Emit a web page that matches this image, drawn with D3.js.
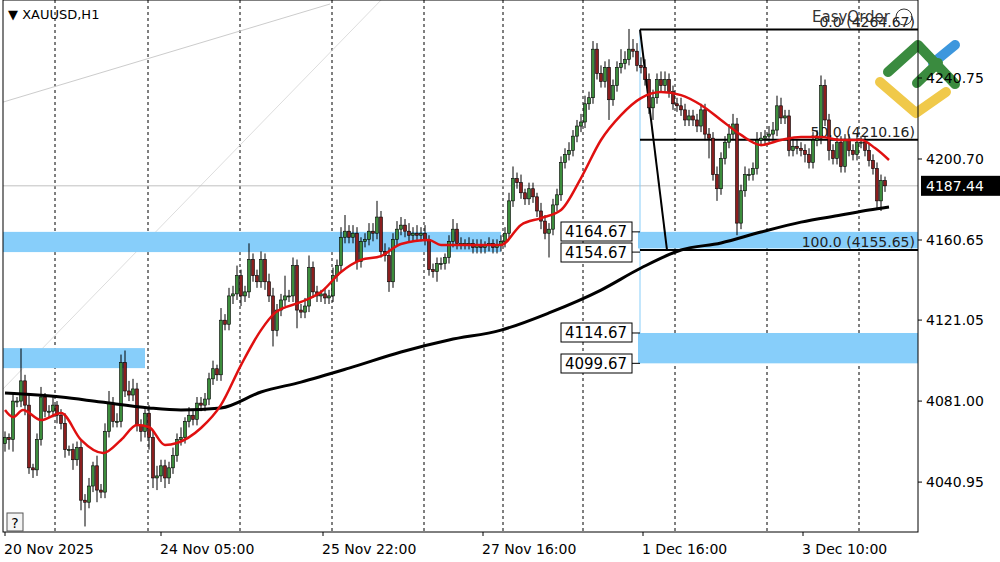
<!DOCTYPE html>
<html><head><meta charset="utf-8">
<script src="https://cdn.jsdelivr.net/npm/d3@7"></script>
<style>body{margin:0;background:#fff}svg{font-family:Tahoma,"DejaVu Sans",sans-serif}</style>
</head><body><svg id="chart" width="1000" height="562"></svg>
<script>
// candle closes (H1), open = previous close
const closes = [4063,4062,4081,4081,4091,4079,4048,4047,4062,4083,4076,4076,4079,4074,4070,4057,4057,4052,4058,4032,
4031,4039,4049,4037,4036,4066,4080,4071,4071,4100,4086,4084,4087,4069,4066,4075,4063,4043,4044,4049,
4043,4048,4054,4062,4063,4071,4074,4072,4080,4079,4082,4092,4097,4094,4121,4119,4133,4134,4143,4133,
4135,4151,4143,4140,4151,4140,4133,4116,4126,4131,4133,4133,4148,4126,4125,4128,4147,4135,4133,4134,
4132,4133,4143,4148,4162,4165,4162,4164,4150,4160,4161,4165,4164,4172,4155,4153,4140,4161,4166,4168,
4165,4163,4164,4163,4164,4161,4146,4145,4149,4149,4152,4160,4166,4159,4159,4159,4159,4157,4158,4157,
4158,4159,4157,4158,4160,4164,4180,4191,4189,4184,4181,4186,4182,4175,4170,4164,4166,4178,4183,4199,
4203,4205,4212,4217,4219,4228,4231,4255,4243,4239,4246,4230,4237,4246,4248,4250,4255,4254,4247,4246,
4240,4226,4231,4240,4237,4240,4234,4228,4227,4225,4220,4222,4220,4217,4225,4213,4211,4193,4186,4201,
4209,4213,4218,4169,4185,4193,4193,4196,4210,4211,4212,4213,4215,4227,4221,4222,4205,4207,4206,4205,
4203,4199,4210,4211,4237,4220,4205,4201,4209,4197,4210,4205,4203,4209,4209,4205,4200,4196,4180,4190,4187.44];
const firstOpen = 4060;
const wickUp = [3,2,4,2,16,3,6,2,3,5,2,3,4,2,3,5,2,3,3,4, 3,4,2,5,3,4,6,3,4,4,6,5,5,3,3,2,4,3,5,3,
3,3,4,3,5,2,4,3,3,3,3,3,4,2,6,3,4,4,5,3, 3,8,3,3,4,3,4,4,3,3,10,3,4,3,3,4,6,3,3,2,
3,3,4,3,5,8,3,4,3,2,3,4,4,8,3,4,4,3,4,4, 3,4,3,4,3,4,2,3,3,3,2,3,5,3,3,2,3,2,3,3,
2,3,2,3,3,3,4,6,3,4,2,3,3,2,4,3,3,3,3,3, 3,4,3,3,4,4,3,4,3,4,3,4,3,3,7,4,10,5,4,4,
4,3,4,3,4,4,3,3,3,4,3,3,3,3,3,3,3,3,4,3, 3,5,5,3,3,4,3,3,4,3,3,4,4,5,4,3,3,3,3,3,
3,3,4,4,5,3,3,3,3,3,3,3,3,4,3,3,3,3,3,3,2];
const wickDn = [4,5,6,3,3,5,3,4,3,3,3,3,3,4,3,4,3,5,3,5, 12,3,3,6,3,3,3,3,3,3,3,3,3,3,5,3,6,5,6,3,
5,3,3,3,3,3,3,3,3,3,3,3,3,3,3,3,3,4,3,5, 3,3,3,3,3,4,3,8,3,3,3,3,3,9,3,3,3,3,3,3,
3,3,3,3,3,3,3,3,4,3,3,3,4,3,3,3,5,3,3,3, 3,3,3,3,3,3,3,3,5,3,3,3,3,3,3,3,3,3,3,3,
3,3,3,3,3,3,3,3,3,3,3,3,3,3,4,3,12,3,3,3, 3,3,3,3,3,3,3,3,3,3,3,10,3,3,3,3,3,3,3,3,
3,3,6,3,3,3,3,3,3,3,3,3,3,3,3,3,10,3,6,3, 3,3,3,6,3,3,3,3,3,3,3,3,3,3,3,3,3,3,3,3,
4,3,3,3,3,3,5,3,3,3,3,3,3,3,3,3,3,3,4,5,3];
// moving averages: [candle index, price]
const maFast = [[0,4076.6],[2,4073.1],[4.5,4076.6],[9,4071.6],[14,4075.1],[19,4061.8],[24.5,4055.3],[29,4061.8],[33,4069.2],[36,4068.2],
[40,4059.3],[43,4060.3],[49,4067.7],[54,4079.1],[59,4098.8],[64,4116.1],[67.5,4124.6],[74,4130],[79,4134.9],[84,4144.8],[89,4150.8],
[94,4152.7],[99,4158.7],[106,4160.6],[109,4158.2],[116,4158.2],[124,4158.2],[129,4168.1],[134,4171.5],[139,4175.5],[144,4191.3],
[149,4210.1],[154,4222.4],[159,4230.8],[164,4233.8],[169,4232.3],[174,4227.4],[179,4220],[184,4212.6],[189,4207.6],[194,4210.1],
[199,4211.6],[204,4211.6],[209,4210.1],[214,4210.1],[217.5,4206.1],[221,4200.2]];
const maSlow = [[0,4085],[14,4083],[24,4080.5],[36,4077.6],[44,4076.6],[54,4077.6],[64,4085.5],[74,4090.4],[86,4097.3],[99,4105.3],
[111,4111.2],[124,4116.1],[136,4124.6],[149,4135.9],[159,4146.8],[169,4155.7],[179,4159.2],[189,4164.6],[199,4169.5],[209,4173],[216,4175.5],[221,4177]];
const priceTicks = [4240.75,4200.70,4160.65,4121.05,4081.00,4040.95];
const timeLabels = [[0,"20 Nov 2025"],[39,"24 Nov 05:00"],[79.5,"25 Nov 22:00"],[119.5,"27 Nov 16:00"],[159.5,"1 Dec 16:00"],[199.5,"3 Dec 10:00"]];
const gridIdx = [12.5,35.75,58.75,81.75,104.75,124.5,144.5,167.5,190.5,213.5];
const zones = [{a:0,b:124.5,hi:4164.67,lo:4154.67},{a:0,b:35.5,hi:4107.2,lo:4097.3},
  {a:158.75,b:229,hi:4164.67,lo:4156.5},{a:158.75,b:229,hi:4114.67,lo:4099.67}];
const levelTags = [4164.67,4154.67,4114.67,4099.67];
const fib = [[4264.67,"0.0 (4264.67)"],[4210.16,"50.0 (4210.16)"],[4155.65,"100.0 (4155.65)"]];
const lastPrice = 4187.44;

const svg = d3.select("#chart");
const L = 3, R = 918, T = 0, B = 532;
const x = d3.scaleLinear().domain([0, 1]).range([5, 9]);
const y = d3.scaleLinear().domain([4200.70, 4160.65]).range([159, 240]);

const candles = closes.map((c, i) => {
  const o = i === 0 ? firstOpen : closes[i - 1];
  return {i, o, c, h: Math.max(o, c) + wickUp[i], l: Math.min(o, c) - wickDn[i]};
});

svg.append("defs").append("clipPath").attr("id", "plot")
  .append("rect").attr("x", L).attr("y", T).attr("width", R - L).attr("height", B - T);
const g = svg.append("g").attr("clip-path", "url(#plot)");

// grid
g.selectAll(".grid").data(gridIdx).join("line")
  .attr("x1", d => x(d)).attr("x2", d => x(d)).attr("y1", T).attr("y2", B)
  .attr("stroke", "#000").attr("stroke-dasharray", "3,3").attr("stroke-width", 1);

// thin trend lines
g.append("line").attr("x1", 0).attr("y1", 103).attr("x2", 330).attr("y2", 4).attr("stroke", "#ccc");
g.append("line").attr("x1", 0).attr("y1", 392).attr("x2", 420).attr("y2", -40).attr("stroke", "#ddd");
g.append("line").attr("x1", L).attr("x2", R).attr("y1", y(lastPrice)).attr("y2", y(lastPrice)).attr("stroke", "#c0c0c0");

// zones
g.selectAll(".zone").data(zones).join("rect")
  .attr("x", d => x(d.a) - 2).attr("width", d => x(d.b) - x(d.a))
  .attr("y", d => y(d.hi)).attr("height", d => y(d.lo) - y(d.hi)).attr("fill", "#87cefa");
g.append("line").attr("x1", x(158.75)).attr("x2", x(158.75)).attr("y1", y(4264.67)).attr("y2", y(4099.67)).attr("stroke", "#87cefa");

// fibo
fib.forEach(([p, t]) => {
  g.append("line").attr("x1", x(158.75)).attr("x2", R).attr("y1", y(p)).attr("y2", y(p)).attr("stroke", "#000").attr("stroke-width", 2);
  g.append("text").attr("x", 915).attr("y", y(p) - 3).attr("text-anchor", "end").attr("font-size", 14).attr("fill", "#222").text(t);
});
g.append("line").attr("x1", x(158.75)).attr("y1", y(4264.67)).attr("x2", x(165.5)).attr("y2", y(4155.65)).attr("stroke", "#000").attr("stroke-width", 2);

// candles
const cg = g.append("g");
cg.selectAll("line").data(candles).join("line")
  .attr("x1", d => x(d.i)).attr("x2", d => x(d.i)).attr("y1", d => y(d.h)).attr("y2", d => y(d.l)).attr("stroke", "#000");
cg.selectAll("rect").data(candles).join("rect")
  .attr("x", d => x(d.i) - 1.5).attr("width", 3)
  .attr("y", d => y(Math.max(d.o, d.c))).attr("height", d => Math.max(1, Math.abs(y(d.o) - y(d.c))))
  .attr("fill", d => d.c >= d.o ? "#3c8d3c" : "#8b1e1e").attr("stroke", "#000").attr("stroke-width", 0.6);

// moving averages
const line = d3.line().x(d => x(d[0])).y(d => y(d[1])).curve(d3.curveMonotoneX);
g.append("path").datum(maSlow).attr("d", line).attr("fill", "none").attr("stroke", "#000").attr("stroke-width", 3);
g.append("path").datum(maFast).attr("d", line).attr("fill", "none").attr("stroke", "#e01010").attr("stroke-width", 2.5);

// level tags
levelTags.forEach((p, k) => {
  const yy = [231, 252, 332, 363][k];
  g.append("rect").attr("x", 561).attr("y", yy - 9).attr("width", 71).attr("height", 19).attr("fill", "#fff").attr("stroke", "#000");
  g.append("line").attr("x1", 632).attr("x2", 640).attr("y1", y(p)).attr("y2", y(p)).attr("stroke", "#000");
  g.append("text").attr("x", 596).attr("y", yy + 6).attr("text-anchor", "middle").attr("font-size", 15).text(p.toFixed(2));
});

// EasyOrder
svg.append("text").attr("x", 812).attr("y", 22).attr("font-size", 15).attr("fill", "#333").text("EasyOrder");
svg.append("circle").attr("cx", 904).attr("cy", 17).attr("r", 8).attr("fill", "none").attr("stroke", "#333");

// logo
const logo = svg.append("g").attr("fill", "none").attr("stroke-linecap", "round").attr("stroke-linejoin", "round").attr("stroke-width", 10);
logo.append("path").attr("d", "M880,82 L916,113 L946,92").attr("stroke", "#f0c94a");
logo.append("path").attr("d", "M933,63 L955,45").attr("stroke", "#3d97dd");
logo.append("path").attr("d", "M888,72 L918,45 L955,84 M917,83 L938,63").attr("stroke", "#3a8b3f");

// frame and axes
svg.append("rect").attr("x", L).attr("y", T).attr("width", R - L).attr("height", B - T).attr("fill", "none").attr("stroke", "#000");
priceTicks.forEach(p => {
  svg.append("line").attr("x1", R).attr("x2", R + 4).attr("y1", y(p)).attr("y2", y(p)).attr("stroke", "#000");
  svg.append("text").attr("x", 926).attr("y", y(p) + 5).attr("font-size", 14).text(p.toFixed(2));
});
svg.append("rect").attr("x", 921).attr("y", y(lastPrice) - 10).attr("width", 79).attr("height", 20).attr("fill", "#000");
svg.append("text").attr("x", 926).attr("y", y(lastPrice) + 5).attr("font-size", 14).attr("fill", "#fff").text(lastPrice.toFixed(2));
timeLabels.forEach(([i, t]) => {
  svg.append("line").attr("x1", x(i)).attr("x2", x(i)).attr("y1", B).attr("y2", B + 4).attr("stroke", "#000");
  svg.append("text").attr("x", x(i) - 1).attr("y", 554).attr("font-size", 14).text(t);
});
svg.append("text").attr("x", 8).attr("y", 19).attr("font-size", 13).text("▼ XAUUSD,H1");
svg.append("rect").attr("x", 7).attr("y", 513).attr("width", 16).attr("height", 18).attr("fill", "#f4f4f4").attr("stroke", "#555");
svg.append("text").attr("x", 15).attr("y", 528).attr("text-anchor", "middle").attr("font-size", 14).text("?");
</script></body></html>
